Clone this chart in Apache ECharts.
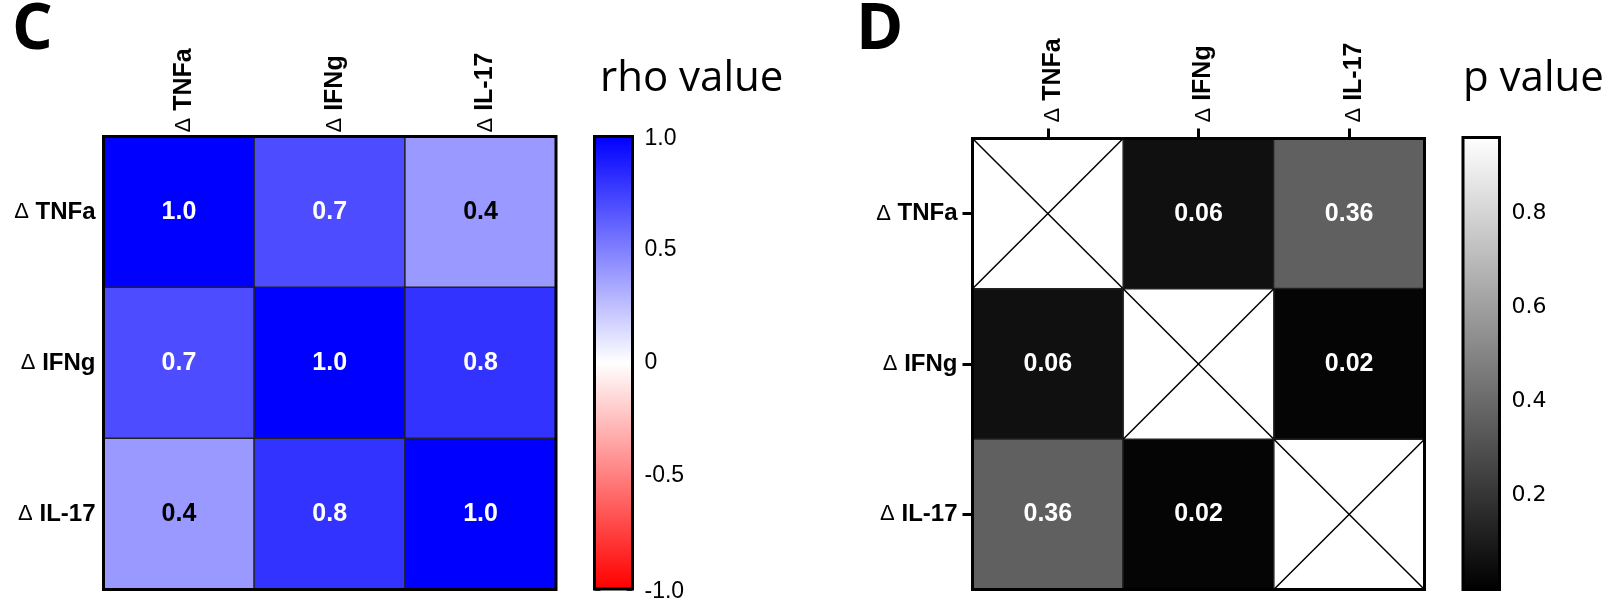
<!DOCTYPE html>
<html>
<head>
<meta charset="utf-8">
<script src="https://cdn.jsdelivr.net/npm/echarts@6/dist/echarts.min.js"></script>
<style>
  html, body { margin: 0; padding: 0; background: #fff; }
  #chart { width: 1606px; height: 603px; }
</style>
</head>
<body>
<div id="chart"></div>
<script>
// Cytokine changes compared pairwise
const markers = ['TNFa', 'IFNg', 'IL-17'];

// Spearman rho, rows top-to-bottom, columns left-to-right
const rhoValues = [
  [1.0, 0.7, 0.4],
  [0.7, 1.0, 0.8],
  [0.4, 0.8, 1.0]
];

// p values (diagonal not tested)
const pValues = [
  [null, 0.06, 0.36],
  [0.06, null, 0.02],
  [0.36, 0.02, null]
];

// colour scale ranges and tick labels
const rhoRange = [-1.0, 1.0];
const rhoTicks = [-1.0, -0.5, 0, 0.5, 1.0];
const pRange = [0, 0.96];
const pTicks = [0.2, 0.4, 0.6, 0.8];

const ARIAL = 'Arial, "Liberation Sans", sans-serif';
const TITLE_FONT = '"Open Sans", "Noto Sans", sans-serif';

function markerLabel(name) { return '{d|\u0394} ' + name; }
const deltaRich = { d: { fontSize: 22, fontWeight: 'normal', fontFamily: ARIAL, color: '#000' } };

function cellData(matrix, fmt, dark) {
  const out = [];
  matrix.forEach((row, r) => row.forEach((v, c) => {
    if (v === null) return;
    out.push({
      value: [c, r, v],
      label: { formatter: fmt(v), color: dark(v) ? '#000' : '#fff' }
    });
  }));
  return out;
}

const rhoCells = cellData(rhoValues, v => v.toFixed(1), v => v < 0.5);
const pCells = cellData(pValues, v => v.toFixed(2), () => false);
const untested = [];
pValues.forEach((row, r) => row.forEach((v, c) => { if (v === null) untested.push([c, r]); }));

function colorBar(stops) {
  return function (params, api) {
    const top = api.coord([api.value(0), api.value(2)]);
    const bot = api.coord([api.value(0), api.value(1)]);
    const w = api.size([1, 0])[0];
    return {
      type: 'rect',
      shape: { x: top[0] - w / 2, y: top[1], width: w, height: bot[1] - top[1] },
      style: { fill: new echarts.graphic.LinearGradient(0, 0, 0, 1, stops) }
    };
  };
}

function crossedCell(params, api) {
  const c = api.coord([api.value(0), api.value(1)]);
  const s = api.size([1, 1]);
  const x0 = c[0] - s[0] / 2, y0 = c[1] - s[1] / 2;
  return {
    type: 'group',
    children: [
      { type: 'rect', shape: { x: x0, y: y0, width: s[0], height: s[1] },
        style: { fill: '#fff', stroke: '#222', lineWidth: 1.5 } },
      { type: 'line', shape: { x1: x0, y1: y0, x2: x0 + s[0], y2: y0 + s[1] },
        style: { stroke: '#000', lineWidth: 1.5 } },
      { type: 'line', shape: { x1: x0 + s[0], y1: y0, x2: x0, y2: y0 + s[1] },
        style: { stroke: '#000', lineWidth: 1.5 } }
    ]
  };
}

const frame = { show: true, borderColor: '#000', borderWidth: 3, backgroundColor: 'transparent', z: 10 };
const rowLabel = { fontFamily: ARIAL, fontWeight: 'bold', fontSize: 24, color: '#000', rich: deltaRich, formatter: markerLabel };
const colLabel = { fontFamily: ARIAL, fontWeight: 'bold', fontSize: 25, color: '#000', rich: deltaRich, formatter: markerLabel, rotate: -90, padding: [10, 0, 0, 0] };
const cellLabel = { show: true, fontFamily: ARIAL, fontWeight: 'bold', fontSize: 25 };

function barTickFormatter(list, digits) {
  const lo = Math.min.apply(null, list), hi = Math.max.apply(null, list);
  return v => {
    const hit = list.find(t => Math.abs(t - v) < 1e-6);
    if (hit === undefined) return '';
    const txt = hit === 0 ? '0' : hit.toFixed(digits);
    return (hit === lo || hit === hi) ? '{end|' + txt + '}' : txt;
  };
}

const option = {
  animation: false,
  backgroundColor: '#fff',
  title: [
    { text: 'C', left: 12, top: -1, padding: 0, textStyle: { fontFamily: TITLE_FONT, fontWeight: 'bold', fontSize: 64, color: '#000' } },
    { text: 'D', left: 856, top: -1, padding: 0, textStyle: { fontFamily: TITLE_FONT, fontWeight: 'bold', fontSize: 64, color: '#000' } },
    { text: 'rho value', left: 600, top: 58, padding: 0, textStyle: { fontFamily: TITLE_FONT, fontWeight: 'normal', fontSize: 42, color: '#000' } },
    { text: 'p value', left: 1463, top: 58, padding: 0, textStyle: { fontFamily: TITLE_FONT, fontWeight: 'normal', fontSize: 42, color: '#000' } }
  ],
  grid: [
    Object.assign({ left: 103.5, top: 136.5, width: 452.5, height: 453 }, frame),
    Object.assign({ left: 594.5, top: 136.5, width: 38, height: 453 }, frame),
    Object.assign({ left: 972.5, top: 138.5, width: 452, height: 451 }, frame),
    Object.assign({ left: 1463, top: 137.5, width: 36.5, height: 452 }, frame)
  ],
  xAxis: [
    { gridIndex: 0, type: 'category', data: markers, position: 'top',
      axisLine: { show: false }, axisTick: { show: false }, splitLine: { show: false },
      axisLabel: Object.assign({ margin: 4 }, colLabel) },
    { gridIndex: 1, type: 'category', data: ['rho'], show: false },
    { gridIndex: 2, type: 'category', data: markers, position: 'top',
      axisLine: { show: false }, splitLine: { show: false },
      axisTick: { show: true, alignWithLabel: true, length: 10, lineStyle: { color: '#000', width: 3 } },
      axisLabel: Object.assign({ margin: 16 }, colLabel) },
    { gridIndex: 3, type: 'category', data: ['p'], show: false }
  ],
  yAxis: [
    { gridIndex: 0, type: 'category', data: markers, inverse: true,
      axisLine: { show: false }, axisTick: { show: false }, splitLine: { show: false },
      axisLabel: Object.assign({ margin: 8 }, rowLabel) },
    { gridIndex: 1, type: 'value', min: rhoRange[0], max: rhoRange[1], interval: 0.5, position: 'right',
      axisLine: { show: false }, splitLine: { show: false },
      axisTick: { show: true, inside: true, length: 6, lineStyle: { color: '#000', width: 2.5 } },
      axisLabel: { margin: 12, fontFamily: ARIAL, fontSize: 23, color: '#000', formatter: barTickFormatter(rhoTicks, 1),
        rich: { end: { fontFamily: ARIAL, fontSize: 23, color: '#000', padding: [5, 0, 0, 0] } } } },
    { gridIndex: 1, type: 'value', min: rhoRange[0], max: rhoRange[1], interval: 0.5, position: 'left',
      axisLine: { show: false }, splitLine: { show: false }, axisLabel: { show: false },
      axisTick: { show: true, inside: true, length: 6, lineStyle: { color: '#000', width: 2.5 } } },
    { gridIndex: 2, type: 'category', data: markers, inverse: true,
      axisLine: { show: false }, splitLine: { show: false },
      axisTick: { show: true, alignWithLabel: true, length: 10, lineStyle: { color: '#000', width: 3 } },
      axisLabel: Object.assign({ margin: 15 }, rowLabel) },
    { gridIndex: 3, type: 'value', min: pRange[0], max: pRange[1], interval: 0.2, position: 'right',
      axisLine: { show: false }, splitLine: { show: false },
      axisTick: { show: true, inside: true, length: 6, lineStyle: { color: '#000', width: 2.5 } },
      axisLabel: { margin: 12, fontFamily: '"DejaVu Sans", sans-serif', fontSize: 22, color: '#000',
        formatter: v => { const t = pTicks.find(x => Math.abs(x - v) < 1e-6); return t === undefined ? '' : t.toFixed(1); } } },
    { gridIndex: 3, type: 'value', min: pRange[0], max: pRange[1], interval: 0.2, position: 'left',
      axisLine: { show: false }, splitLine: { show: false }, axisLabel: { show: false },
      axisTick: { show: true, inside: true, length: 6, lineStyle: { color: '#000', width: 2.5 } } }
  ],
  visualMap: [
    { type: 'continuous', show: false, seriesIndex: 0, dimension: 2,
      min: rhoRange[0], max: rhoRange[1], inRange: { color: ['#ff0000', '#ffffff', '#0000ff'] } },
    { type: 'continuous', show: false, seriesIndex: 2, dimension: 2,
      min: pRange[0], max: pRange[1], inRange: { color: ['#000000', '#ffffff'] } }
  ],
  series: [
    { type: 'heatmap', xAxisIndex: 0, yAxisIndex: 0, data: rhoCells, z: 2,
      itemStyle: { borderColor: '#222', borderWidth: 1.5 }, label: cellLabel },
    { type: 'custom', xAxisIndex: 1, yAxisIndex: 1, data: [[0, rhoRange[0], rhoRange[1]]], z: 2,
      renderItem: colorBar([{ offset: 0, color: '#0000ff' }, { offset: 0.5, color: '#ffffff' }, { offset: 1, color: '#ff0000' }]) },
    { type: 'heatmap', xAxisIndex: 2, yAxisIndex: 3, data: pCells, z: 2,
      itemStyle: { borderColor: '#222', borderWidth: 1.5 }, label: cellLabel },
    { type: 'custom', xAxisIndex: 2, yAxisIndex: 3, data: untested, z: 2, renderItem: crossedCell },
    { type: 'custom', xAxisIndex: 3, yAxisIndex: 4, data: [[0, pRange[0], pRange[1]]], z: 2,
      renderItem: colorBar([{ offset: 0, color: '#ffffff' }, { offset: 1, color: '#000000' }]) }
  ]
};

const chart = echarts.init(document.getElementById('chart'), null, { renderer: 'canvas' });
chart.setOption(option);
</script>
</body>
</html>
